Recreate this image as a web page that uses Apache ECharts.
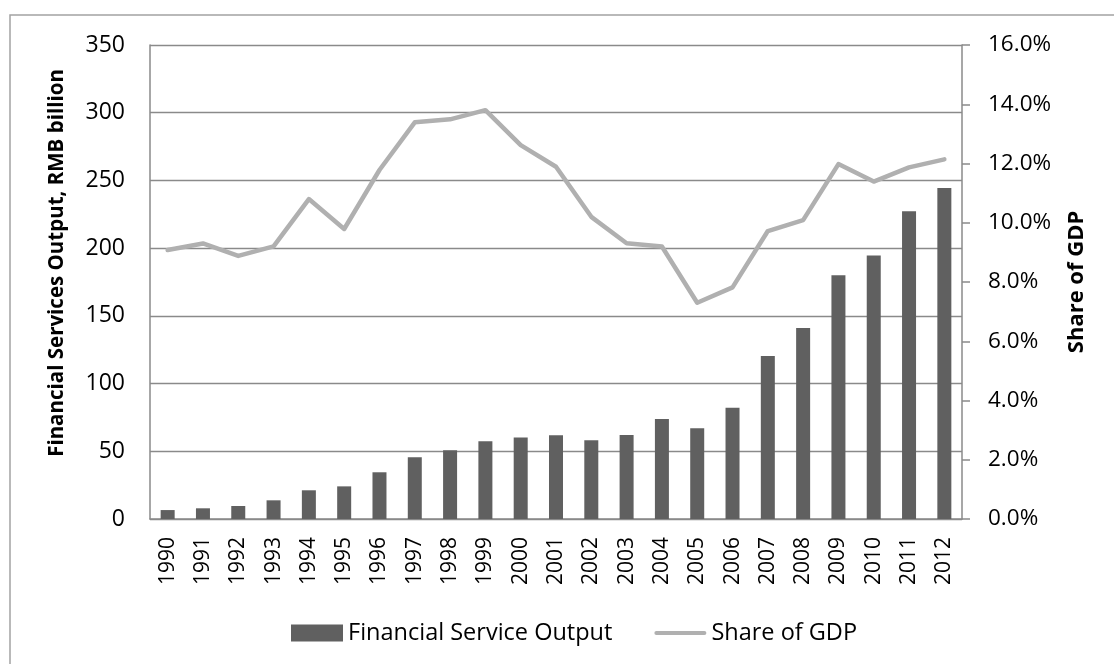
<!DOCTYPE html>
<html>
<head>
<meta charset="utf-8">
<script src="https://cdn.jsdelivr.net/npm/echarts@6/dist/echarts.min.js"></script>
<style>
  html, body { margin: 0; padding: 0; background: #fff; }
  #chart { width: 1114px; height: 664px; }
</style>
</head>
<body>
<div id="chart"></div>
<script>
// China: financial services output and its share of GDP, 1990-2012
const years = ['1990','1991','1992','1993','1994','1995','1996','1997','1998','1999','2000',
               '2001','2002','2003','2004','2005','2006','2007','2008','2009','2010','2011','2012'];
// Financial service output, RMB billion
const outputValues = [6.6, 7.9, 9.6, 13.8, 21.2, 24.1, 34.5, 45.6, 50.7, 57.4, 60.1,
                      61.8, 58.1, 62.0, 73.9, 67.0, 82.2, 120.4, 141.0, 180.0, 194.5, 227.3, 244.5];
// Share of GDP, percent
const shareValues = [9.08, 9.3, 8.88, 9.2, 10.8, 9.79, 11.78, 13.39, 13.49, 13.8, 12.62,
                     11.89, 10.2, 9.31, 9.2, 7.3, 7.82, 9.72, 10.09, 11.98, 11.39, 11.87, 12.14];
const leftTicks = { min: 0, max: 350, interval: 50 };
const rightTicks = { min: 0, max: 16, interval: 2 };

const FONT = '"Open Sans", sans-serif';
const GRID_COLOR = '#8a8a8a';
const LINE_COLOR = '#b0b0b0';

const chart = echarts.init(document.getElementById('chart'), null, { renderer: 'canvas' });
chart.setOption({
  backgroundColor: '#ffffff',
  animation: false,
  textStyle: { fontFamily: FONT, color: '#000' },
  graphic: [{
    type: 'rect',
    z: -1,
    shape: { x: 10, y: 15, width: 1200, height: 700 },
    style: { fill: 'none', stroke: '#a3a3a3', lineWidth: 1.5 }
  }],
  grid: { left: 150, right: 152, top: 45, bottom: 145, containLabel: false },
  legend: {
    bottom: 14,
    left: 286,
    itemWidth: 52,
    itemHeight: 17,
    itemGap: 42,
    textStyle: { fontFamily: FONT, fontSize: 23.5, color: '#000' },
    data: [
      { name: 'Financial Service Output', icon: 'rect' },
      { name: 'Share of GDP', icon: 'path://M2,0 L50,0 A2,2 0 0 1 50,4 L2,4 A2,2 0 0 1 2,0 Z',
        itemStyle: { color: LINE_COLOR } }
    ]
  },
  xAxis: {
    type: 'category',
    data: years,
    axisLine: { lineStyle: { color: GRID_COLOR, width: 1.5 } },
    axisTick: { show: false },
    axisLabel: { rotate: 90, margin: 18, fontFamily: FONT, fontSize: 21, color: '#000' }
  },
  yAxis: [
    {
      type: 'value',
      min: leftTicks.min, max: leftTicks.max, interval: leftTicks.interval,
      name: 'Financial Services Output, RMB billion',
      nameLocation: 'middle',
      nameGap: 82,
      nameTextStyle: { fontFamily: FONT, fontSize: 20.5, fontWeight: 'bold', color: '#000',
                       padding: [0, 0, 0, 38] },
      axisLine: { show: true, lineStyle: { color: GRID_COLOR, width: 1.5 } },
      axisTick: { show: false },
      axisLabel: { margin: 25, fontFamily: FONT, fontSize: 23, color: '#000' },
      splitLine: { lineStyle: { color: GRID_COLOR, width: 1.3 } }
    },
    {
      type: 'value',
      position: 'right',
      min: rightTicks.min, max: rightTicks.max, interval: rightTicks.interval,
      name: 'Share of GDP',
      nameLocation: 'middle',
      nameGap: 104,
      nameRotate: 90,
      nameTextStyle: { fontFamily: FONT, fontSize: 22, fontWeight: 'bold', color: '#000' },
      axisLine: { show: true, lineStyle: { color: GRID_COLOR, width: 1.5 } },
      axisTick: { show: true, inside: false, length: 8, lineStyle: { color: GRID_COLOR, width: 1.5 } },
      axisLabel: { margin: 26, fontFamily: FONT, fontSize: 22.5, color: '#000',
                   formatter: v => v.toFixed(1) + '%' },
      splitLine: { show: false }
    }
  ],
  series: [
    {
      name: 'Financial Service Output',
      type: 'bar',
      yAxisIndex: 0,
      barWidth: 14,
      itemStyle: { color: '#606060' },
      data: outputValues
    },
    {
      name: 'Share of GDP',
      type: 'line',
      yAxisIndex: 1,
      symbol: 'none',
      lineStyle: { color: LINE_COLOR, width: 4.5, join: 'round', cap: 'round' },
      itemStyle: { color: LINE_COLOR },
      data: shareValues
    }
  ]
});
</script>
</body>
</html>
